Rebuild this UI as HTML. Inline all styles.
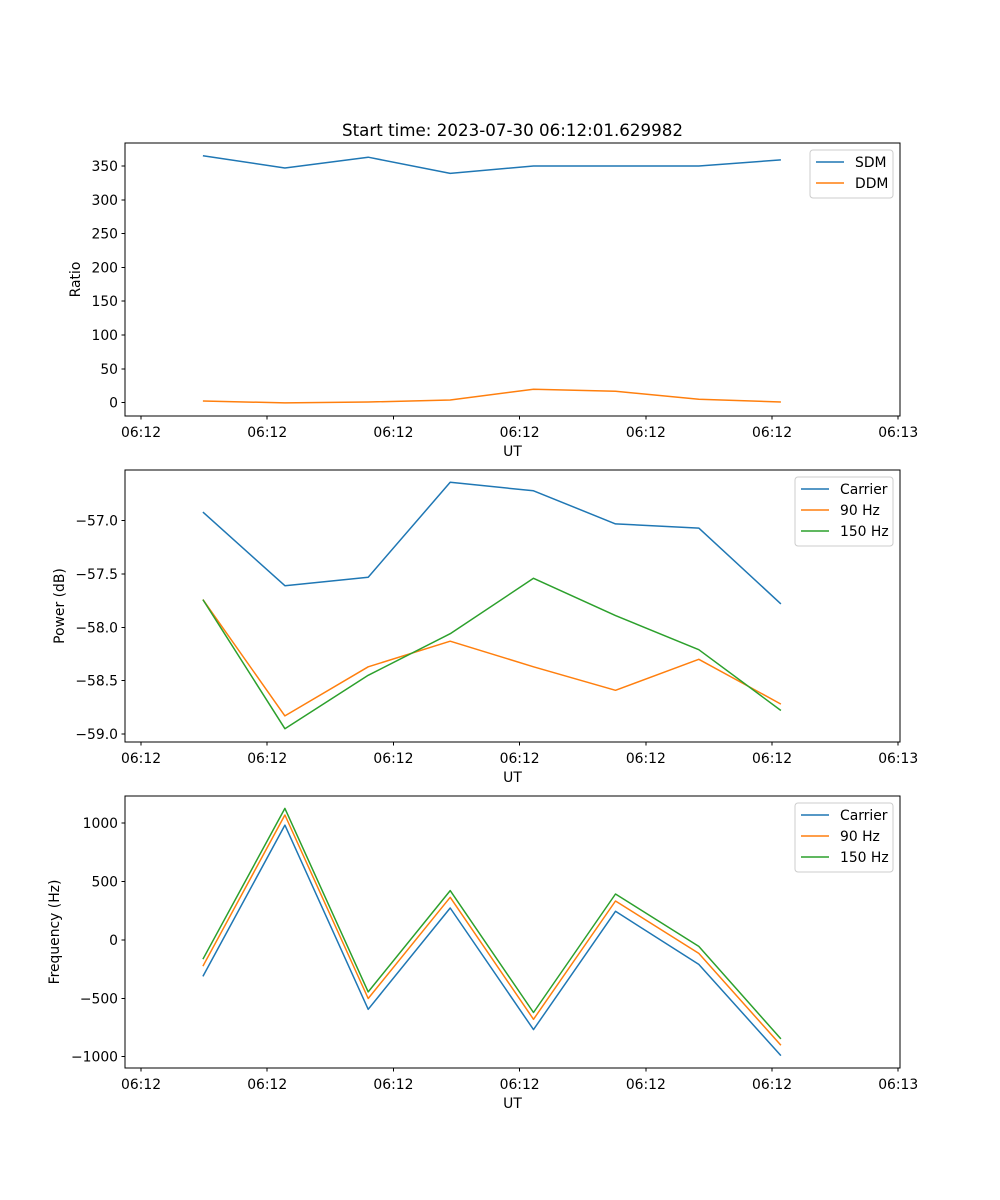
<!DOCTYPE html>
<html><head><meta charset="utf-8"><style>
body{margin:0;background:#fff}
svg{display:block;font-family:"DejaVu Sans","Liberation Sans",sans-serif}
</style></head><body>
<svg id="fig" width="1000" height="1200" viewBox="0 0 1000 1200">
<rect width="1000" height="1200" fill="#fff"/>
<text x="512.5" y="136" font-size="16.7" text-anchor="middle">Start time: 2023-07-30 06:12:01.629982</text>
</svg>
<script>
// shared x data (seconds after 06:12:00)
const times = [4.9, 11.4, 18.0, 24.5, 31.1, 37.6, 44.2, 50.7];
const xTickVals = [0, 10, 20, 30, 40, 50, 60];
const xTickLabels = ["06:12","06:12","06:12","06:12","06:12","06:12","06:13"];
// panel 1
const sdm = [365, 347, 363, 339, 350, 350, 350, 359];
const ddm = [2.5, -0.4, 1, 4, 20, 17, 5, 1];
const ratioTicks = [0, 50, 100, 150, 200, 250, 300, 350];
// panel 2
const powCarrier = [-56.92, -57.61, -57.53, -56.64, -56.72, -57.03, -57.07, -57.78];
const pow90 = [-57.74, -58.83, -58.37, -58.13, -58.37, -58.59, -58.30, -58.72];
const pow150 = [-57.74, -58.95, -58.45, -58.06, -57.54, -57.89, -58.21, -58.78];
const powTicks = [-59.0, -58.5, -58.0, -57.5, -57.0];
// panel 3
const freqCarrier = [-313, 983, -594, 273, -768, 245, -210, -991];
const freq90 = [-225, 1069, -502, 365, -680, 333, -116, -903];
const freq150 = [-165, 1126, -445, 422, -622, 393, -56, -848];
const freqTicks = [-1000, -500, 0, 500, 1000];

const NS = "http://www.w3.org/2000/svg";
const svg = document.getElementById('fig');
const L = 125, R = 900, X0 = -1.27, X1 = 60.14;
const xs = v => L + (v - X0) / (X1 - X0) * (R - L);
function mk(tag, attrs, parent){const e=document.createElementNS(NS,tag);for(const k in attrs)e.setAttribute(k,attrs[k]);(parent||svg).appendChild(e);return e;}
const C = {blue:"#1f77b4", orange:"#ff7f0e", green:"#2ca02c"};

function panel(id, top, bottom, y0, y1, yTicks, fmt, ylabel, ylabelX, series, legendW){
  const g = mk('g', {});
  
  
  const ys = v => bottom - (v - y0) / (y1 - y0) * (bottom - top);
  series.forEach(s => {
    const p = mk('polyline', {points: s.vals.map((v,i)=>xs(times[i]).toFixed(1)+','+ys(v).toFixed(1)).join(' '), fill:'none', stroke:s.color, 'stroke-width':1.5, 'stroke-linejoin':'round'}, g);
    
    
  });
  const fr = mk('rect', {x:L, y:top, width:R-L, height:bottom-top, fill:'none', stroke:'#000', 'stroke-width':1, 'shape-rendering':'crispEdges'}, g);
  
  
  xTickVals.forEach((v,i) => {
    const x = xs(v);
    mk('line', {x1:x, x2:x, y1:bottom, y2:bottom+3.5, stroke:'#000', 'stroke-width':1, 'shape-rendering':'crispEdges'}, g);
    const t = mk('text', {x:x, y:bottom+21, 'font-size':13.9, 'text-anchor':'middle'}, g);
    t.textContent = xTickLabels[i];
    
    
  });
  const xl = mk('text', {x:(L+R)/2, y:bottom+40, 'font-size':13.9, 'text-anchor':'middle'}, g);
  xl.textContent = 'UT';
  
  
  yTicks.forEach(v => {
    const y = ys(v);
    mk('line', {x1:L-3.5, x2:L, y1:y, y2:y, stroke:'#000', 'stroke-width':1, 'shape-rendering':'crispEdges'}, g);
    const t = mk('text', {x:L-7, y:y+5, 'font-size':13.9, 'text-anchor':'end'}, g);
    t.textContent = fmt(v);
    
    
  });
  const yl = mk('text', {x:ylabelX, y:(top+bottom)/2, 'font-size':13.9, 'text-anchor':'middle', transform:`rotate(-90 ${ylabelX} ${(top+bottom)/2})`}, g);
  yl.textContent = ylabel;
  
  
  const lx = R - 7 - legendW, ly = top + 7, lh = 6 + series.length*21;
  const lg = mk('g', {}, g);
  
  
  mk('rect', {x:lx, y:ly, width:legendW, height:lh, rx:3, fill:'#fff', 'fill-opacity':0.8, stroke:'#ccc', 'stroke-width':1}, lg);
  series.forEach((s,i) => {
    const cy = ly + 12 + i*21;
    mk('line', {x1:lx+6, x2:lx+34, y1:cy, y2:cy, stroke:s.color, 'stroke-width':1.5}, lg);
    const t = mk('text', {x:lx+45, y:cy+5, 'font-size':13.9}, lg);
    t.textContent = s.label;
    
    
  });
}
const minus = s => s.replace('-', '\u2212');
panel('ratio', 143, 416, -19.7, 384.0, ratioTicks, v => minus(String(v)), 'Ratio', 80,
  [{key:'sdm', label:'SDM', vals:sdm, color:C.blue},{key:'ddm', label:'DDM', vals:ddm, color:C.orange}], 83);
panel('power', 470, 742, -59.075, -56.525, powTicks, v => minus(v.toFixed(1)), 'Power (dB)', 64,
  [{key:'carrier', label:'Carrier', vals:powCarrier, color:C.blue},{key:'90hz', label:'90 Hz', vals:pow90, color:C.orange},{key:'150hz', label:'150 Hz', vals:pow150, color:C.green}], 98);
panel('frequency', 796, 1068, -1097, 1232, freqTicks, v => minus(String(v)), 'Frequency (Hz)', 59,
  [{key:'carrier', label:'Carrier', vals:freqCarrier, color:C.blue},{key:'90hz', label:'90 Hz', vals:freq90, color:C.orange},{key:'150hz', label:'150 Hz', vals:freq150, color:C.green}], 98);
</script>
</body></html>
